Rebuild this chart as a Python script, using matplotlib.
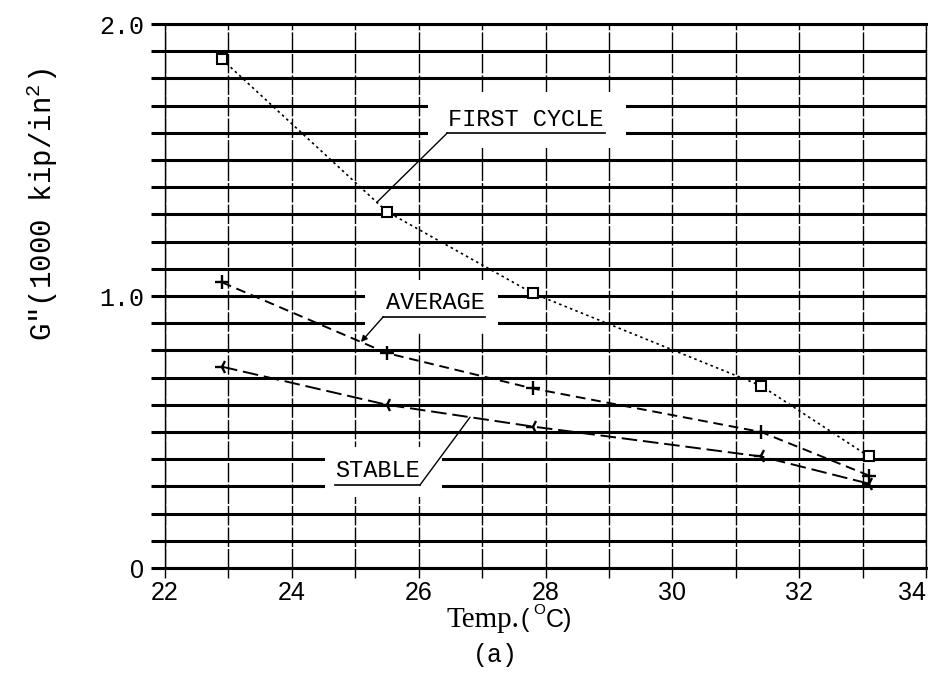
import numpy as np
import matplotlib
matplotlib.use("Agg")
import matplotlib.pyplot as plt
import matplotlib.transforms as mtransforms
from matplotlib.patches import Rectangle

# G'' against temperature for the three loading conditions
temp = [22.9, 25.5, 27.8, 31.4, 33.1]
first_cycle = [1.87, 1.31, 1.01, 0.67, 0.41]
average = [1.05, 0.79, 0.66, 0.50, 0.34]
stable = [0.74, 0.60, 0.52, 0.41, 0.31]

x_ticks = [22, 24, 26, 28, 30, 32, 34]
x_tick_labels = ["22", "24", "26", "28", "30", "32", "34"]
y_ticks = [0, 1.0, 2.0]
y_tick_labels = ["0", "1.0", "2.0"]

MONO = "Liberation Mono"
SANS = "Liberation Sans"
SERIF = "Liberation Serif"

plt.rcParams["mathtext.fontset"] = "custom"
plt.rcParams["mathtext.rm"] = MONO
plt.rcParams["mathtext.it"] = MONO

W, H = 934, 673


def px(x, y):
    return x / W, 1 - y / H


fig = plt.figure(figsize=(W / 100, H / 100), dpi=100)
ax = fig.add_axes([165 / W, 1 - 568 / H, (926 - 165) / W, (568 - 24) / H])
ax.set_xlim(22, 34)
ax.set_ylim(0, 2.0)

# grid: heavy horizontal rules every 0.1, light verticals every 1 degree
ax.set_xticks(x_ticks)
ax.set_xticklabels(x_tick_labels, fontfamily=SANS, fontsize=18)
ax.set_xticks(np.arange(23, 34, 2), minor=True)
ax.set_yticks(y_ticks)
ax.set_yticklabels(y_tick_labels, fontfamily=MONO, fontsize=18)
ax.get_yticklabels()[0].set_fontfamily(SANS)
ax.set_yticks(np.arange(0.1, 2.0, 0.1), minor=True)

# keep the last x label inside the figure
last = ax.get_xticklabels()[-1]
last.set_horizontalalignment("right")
last.set_transform(last.get_transform() + mtransforms.ScaledTranslation(6 / 100, 0, fig.dpi_scale_trans))

ax.set_axisbelow(True)
ax.grid(which="both", axis="y", color="black", linewidth=2.2)
ax.grid(which="both", axis="x", color="black", linewidth=1.0, linestyle=(0, (14, 1.5)))
ax.tick_params(axis="y", which="both", length=10, width=2.2, direction="out", pad=5)
ax.tick_params(axis="x", which="both", length=7, width=1.0, direction="out", pad=2)
for side in ("top", "bottom"):
    ax.spines[side].set_linewidth(2.2)
for side in ("left", "right"):
    ax.spines[side].set_linewidth(1.0)

ax.plot(temp, first_cycle, color="black", linewidth=1.2, linestyle=(0, (1.5, 2)),
        marker="s", markersize=7, markerfacecolor="white", markeredgewidth=1.5, zorder=3)
ax.plot(temp, average, color="black", linewidth=1.4, linestyle=(0, (5, 3)),
        marker="+", markersize=10, markeredgewidth=1.7, zorder=3)
ax.plot(temp, stable, color="black", linewidth=1.4, linestyle=(0, (8, 3)),
        marker="3", markersize=10, markeredgewidth=1.7, zorder=3)


def label(text, box, base, under, target_x, series, start="left", arrow=False):
    (x0, y0), (x1, y1) = box
    ax.add_patch(Rectangle((x0, y0), x1 - x0, y1 - y0, facecolor="white",
                           edgecolor="none", zorder=1.5))
    ax.text(base[0], base[1], text, fontfamily=MONO, fontsize=17,
            ha="center", va="baseline", zorder=4)
    ux0, ux1, uy = under
    ax.plot([ux0, ux1], [uy, uy], color="black", linewidth=1.2, zorder=4)
    sx = ux0 if start == "left" else ux1
    ty = np.interp(target_x, temp, series)
    ax.annotate("", xy=(target_x, ty), xytext=(sx, uy), zorder=4,
                arrowprops=dict(arrowstyle="-|>" if arrow else "-", color="black",
                                lw=1.0, mutation_scale=9, shrinkA=0, shrinkB=0))


label("FIRST CYCLE", ((26.15, 1.544), (29.27, 1.75)), (27.68, 1.625),
      (26.45, 28.94, 1.599), 25.34, first_cycle)
label("AVERAGE", ((25.15, 0.864), (27.25, 1.059)), (26.27, 0.952),
      (25.44, 27.05, 0.923), 25.09, average, arrow=True)
label("STABLE", ((24.52, 0.261), (26.37, 0.445)), (25.35, 0.334),
      (24.68, 26.02, 0.305), 26.81, stable, start="right")

# axis titles
fig.text(*px(42, 205), 'G"(1000 kip/in$^{2}$)', fontfamily=MONO, fontsize=21,
         rotation=90, ha="center", va="center")
fig.text(*px(519, 627), "Temp.", fontfamily=SERIF, fontsize=21, ha="right", va="baseline")
fig.text(*px(521, 627), "(", fontfamily=SANS, fontsize=18, ha="left", va="baseline")
fig.text(*px(533, 614), "O", fontfamily=SANS, fontsize=11, ha="left", va="baseline")
fig.text(*px(546, 627), "C)", fontfamily=SANS, fontsize=18, ha="left", va="baseline")
fig.text(*px(495, 662), "(a)", fontfamily=MONO, fontsize=18, ha="center", va="baseline")

fig.savefig("out.png", dpi=100)
